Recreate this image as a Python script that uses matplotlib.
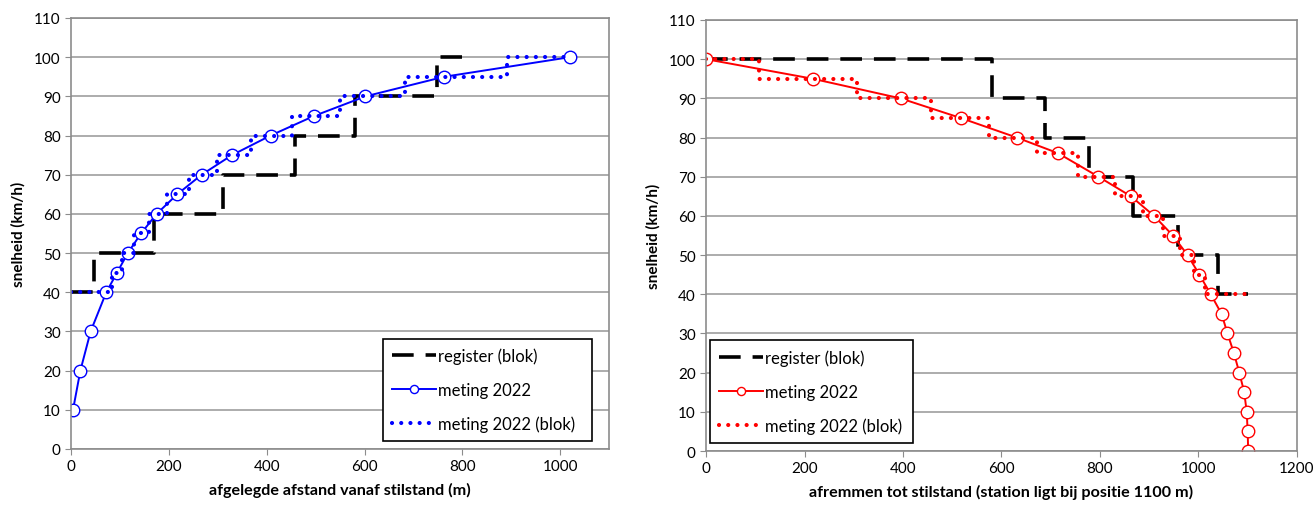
import matplotlib
matplotlib.use("Agg")
import matplotlib.pyplot as plt

plt.rcParams['font.family'] = ['Lato', 'DejaVu Sans']

# links: optrekken vanaf stilstand
reg_opt_x = [0, 47, 170, 310, 457, 580, 749, 800]
reg_opt_v = [40, 50, 60, 70, 80, 90, 100, 100]

met_opt_x = [4, 19, 40, 72, 94, 116, 143, 175, 217, 267, 329, 408, 497, 602, 763, 1020]
met_opt_v = [10, 20, 30, 40, 45, 50, 55, 60, 65, 70, 75, 80, 85, 90, 95, 100]

blok_opt_x = [0, 72, 94, 116, 143, 175, 217, 267, 329, 408, 497, 602, 763, 1020]
blok_opt_v = [40, 40, 45, 50, 55, 60, 65, 70, 75, 80, 85, 90, 95, 100]

# rechts: afremmen tot stilstand
reg_rem_x = [0, 581, 688, 778, 868, 959, 1040, 1100]
reg_rem_v = [100, 90, 80, 70, 60, 50, 40, 40]

met_rem_x = [0, 217, 395, 517, 631, 715, 797, 863, 910, 948, 978, 1002, 1025,
             1047, 1059, 1072, 1083, 1093, 1098, 1100, 1101]
met_rem_v = [100, 95, 90, 85, 80, 76, 70, 65, 60, 55, 50, 45, 40,
             35, 30, 25, 20, 15, 10, 5, 0]

blok_rem_x = [0, 217, 395, 517, 631, 715, 797, 863, 910, 948, 978, 1002, 1025, 1100]
blok_rem_v = [100, 95, 90, 85, 80, 76, 70, 65, 60, 55, 50, 45, 40, 40]

fig = plt.figure(figsize=(13.16, 5.06), dpi=100)
ax1 = fig.add_axes([0.054, 0.1107, 0.4088, 0.8518])
ax2 = fig.add_axes([0.5365, 0.1067, 0.449, 0.8518])


def opmaak(ax, xmax, xlabel):
    ax.set_xlim(0, xmax)
    ax.set_ylim(0, 110)
    ax.set_yticks(range(0, 111, 10))
    ax.set_xticks(range(0, 1201 if xmax == 1200 else 1001, 200))
    ax.yaxis.grid(True, color='#a6a6a6', linewidth=1.3)
    ax.set_axisbelow(True)
    for s in ax.spines.values():
        s.set_color('#8c8c8c')
        s.set_linewidth(1.2)
    ax.tick_params(colors='#8c8c8c', labelcolor='black', labelsize=11, length=4)
    ax.set_xlabel(xlabel, fontsize=11.6, fontweight='bold', labelpad=6)
    ax.set_ylabel('snelheid (km/h)', fontsize=11, fontweight='bold', labelpad=6)


def teken(ax, kleur, rx, rv, mx, mv, bx, bv):
    ax.plot(rx, rv, color='black', lw=2.6, drawstyle='steps-post',
            dashes=(6, 3.3), label='register (blok)')
    ax.plot(mx, mv, color=kleur, lw=1.4, marker='o', ms=9, mfc='white',
            mec=kleur, mew=1.0, label='meting 2022')
    ax.plot(bx, bv, color=kleur, lw=3.0, drawstyle='steps-mid',
            dashes=(0.01, 2.2), dash_capstyle='round', label='meting 2022 (blok)')


def legenda(ax, anker):
    leg = ax.legend(loc='lower left', bbox_to_anchor=anker, mode='expand',
                    fancybox=False, edgecolor='black', fontsize=12,
                    labelspacing=1.05, handlelength=2.6, handletextpad=0.15,
                    borderpad=0.55, borderaxespad=0, markerscale=0.65,
                    framealpha=1)
    leg.get_frame().set_linewidth(1.2)
    return leg


teken(ax1, 'blue', reg_opt_x, reg_opt_v, met_opt_x, met_opt_v, blok_opt_x, blok_opt_v)
opmaak(ax1, 1100, 'afgelegde afstand vanaf stilstand (m)')
legenda(ax1, (0.58, 0.0186, 0.3885, 0.239))

teken(ax2, 'red', reg_rem_x, reg_rem_v, met_rem_x, met_rem_v, blok_rem_x, blok_rem_v)
opmaak(ax2, 1200, 'afremmen tot stilstand (station ligt bij positie 1100 m)')
legenda(ax2, (0.007, 0.019, 0.343, 0.239))

fig.savefig('out.png', dpi=100)
